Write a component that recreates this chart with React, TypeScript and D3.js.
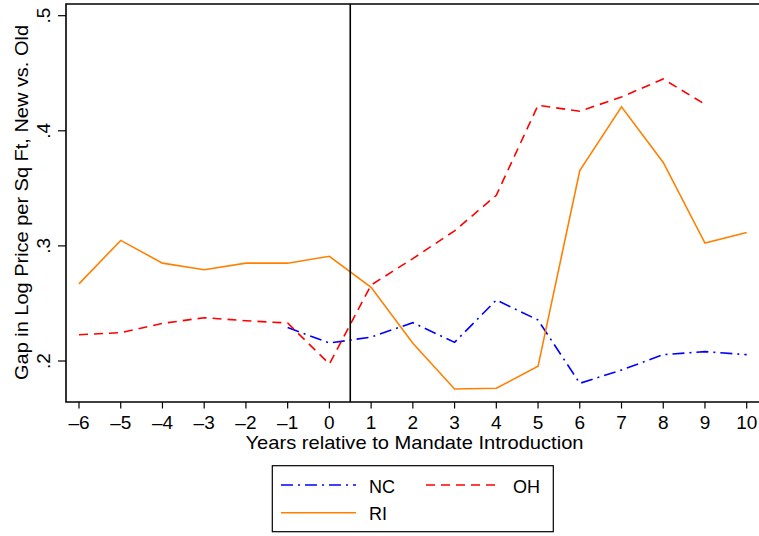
import React from "react";
import * as d3 from "d3";

const years = [-6, -5, -4, -3, -2, -1, 0, 1, 2, 3, 4, 5, 6, 7, 8, 9, 10];
const ncYears = [-1, 0, 1, 2, 3, 4, 5, 6, 7, 8, 9, 10];
const ncValues = [0.229, 0.2156, 0.2208, 0.2333, 0.2162, 0.253, 0.2356, 0.1806, 0.1922, 0.2055, 0.2081, 0.2055];
const ohYears = [-6, -5, -4, -3, -2, -1, 0, 1, 2, 3, 4, 5, 6, 7, 8, 9];
const ohValues = [0.2228, 0.2246, 0.2327, 0.2376, 0.235, 0.233, 0.1974, 0.266, 0.289, 0.3131, 0.344, 0.4222, 0.417, 0.4294, 0.445, 0.423];
const riYears = years;
const riValues = [0.267, 0.3048, 0.285, 0.2793, 0.285, 0.285, 0.291, 0.264, 0.2154, 0.1757, 0.1763, 0.1954, 0.3655, 0.4208, 0.3725, 0.3024, 0.3117];
const yTicks = [0.2, 0.3, 0.4, 0.5];
const yTickLabels = [".2", ".3", ".4", ".5"];
const mandateLine = 0.5;

const FONT = "'Liberation Sans', Arial, Helvetica, sans-serif";

export default function App() {
  const W = 759, H = 536;
  const left = 66, right = 765, top = 4, bottom = 402;
  const x = d3.scaleLinear().domain([-6, 10]).range([79, 746.7]);
  const y = d3.scaleLinear().domain([0.2, 0.5]).range([361, 15.7]);
  const line = d3.line<[number, number]>().x(d => x(d[0])).y(d => y(d[1]));
  const series = [
    { name: "NC", xs: ncYears, vs: ncValues, color: "#0000ff", dash: "12 5 2 5" },
    { name: "OH", xs: ohYears, vs: ohValues, color: "#ff0000", dash: "9 6" },
    { name: "RI", xs: riYears, vs: riValues, color: "#ff8000", dash: "" },
  ];
  const legend = [
    { s: series[0], lx: 281, tx: 369, ty: 485 },
    { s: series[1], lx: 426, tx: 513, ty: 485 },
    { s: series[2], lx: 281, tx: 369, ty: 512.7 },
  ];
  return (
    <svg width={W} height={H} style={{ position: "absolute", left: 0, top: 0, background: "#fff" }} fontFamily={FONT}>
      <rect x={0} y={0} width={W} height={H} fill="#fff" />
      {series.map(s => (
        <path key={s.name} d={line(s.xs.map((v, i) => [v, s.vs[i]] as [number, number])) || ""}
          fill="none" stroke={s.color} strokeWidth={1.6} strokeDasharray={s.dash || undefined} />
      ))}
      <line x1={x(mandateLine)} x2={x(mandateLine)} y1={top} y2={bottom} stroke="#000" strokeWidth={1.6} />
      <path d={`M${right},${top}H${left}V${bottom}H${right}`} fill="none" stroke="#000" strokeWidth={1.6} />
      {yTicks.map((t, i) => (
        <g key={t}>
          <line x1={58} x2={left} y1={y(t)} y2={y(t)} stroke="#000" strokeWidth={1.2} />
          <text transform={`translate(49.5,${y(t)}) rotate(-90)`} textAnchor="middle" fontSize={19}>{yTickLabels[i]}</text>
        </g>
      ))}
      {years.map(t => (
        <g key={t}>
          <line x1={x(t)} x2={x(t)} y1={bottom} y2={408.5} stroke="#000" strokeWidth={1.2} />
          <text x={x(t)} y={429} textAnchor="middle" fontSize={19}>{t < 0 ? "\u2013" + Math.abs(t) : String(t)}</text>
        </g>
      ))}
      <text x={245.5} y={448.7} fontSize={19} textLength={338} lengthAdjust="spacingAndGlyphs">Years relative to Mandate Introduction</text>
      <text transform={`translate(27.5,380) rotate(-90)`} fontSize={19} textLength={355} lengthAdjust="spacingAndGlyphs">Gap in Log Price per Sq Ft, New vs. Old</text>
      <rect x={272.3} y={465.7} width={281} height={66} fill="#fff" stroke="#000" strokeWidth={1.2} />
      {legend.map(l => (
        <g key={l.s.name}>
          <line x1={l.lx} x2={l.lx + 75} y1={l.ty} y2={l.ty} stroke={l.s.color} strokeWidth={1.6} strokeDasharray={l.s.dash || undefined} />
          <text x={l.tx} y={l.ty + 7.5} fontSize={18}>{l.s.name}</text>
        </g>
      ))}
    </svg>
  );
}
